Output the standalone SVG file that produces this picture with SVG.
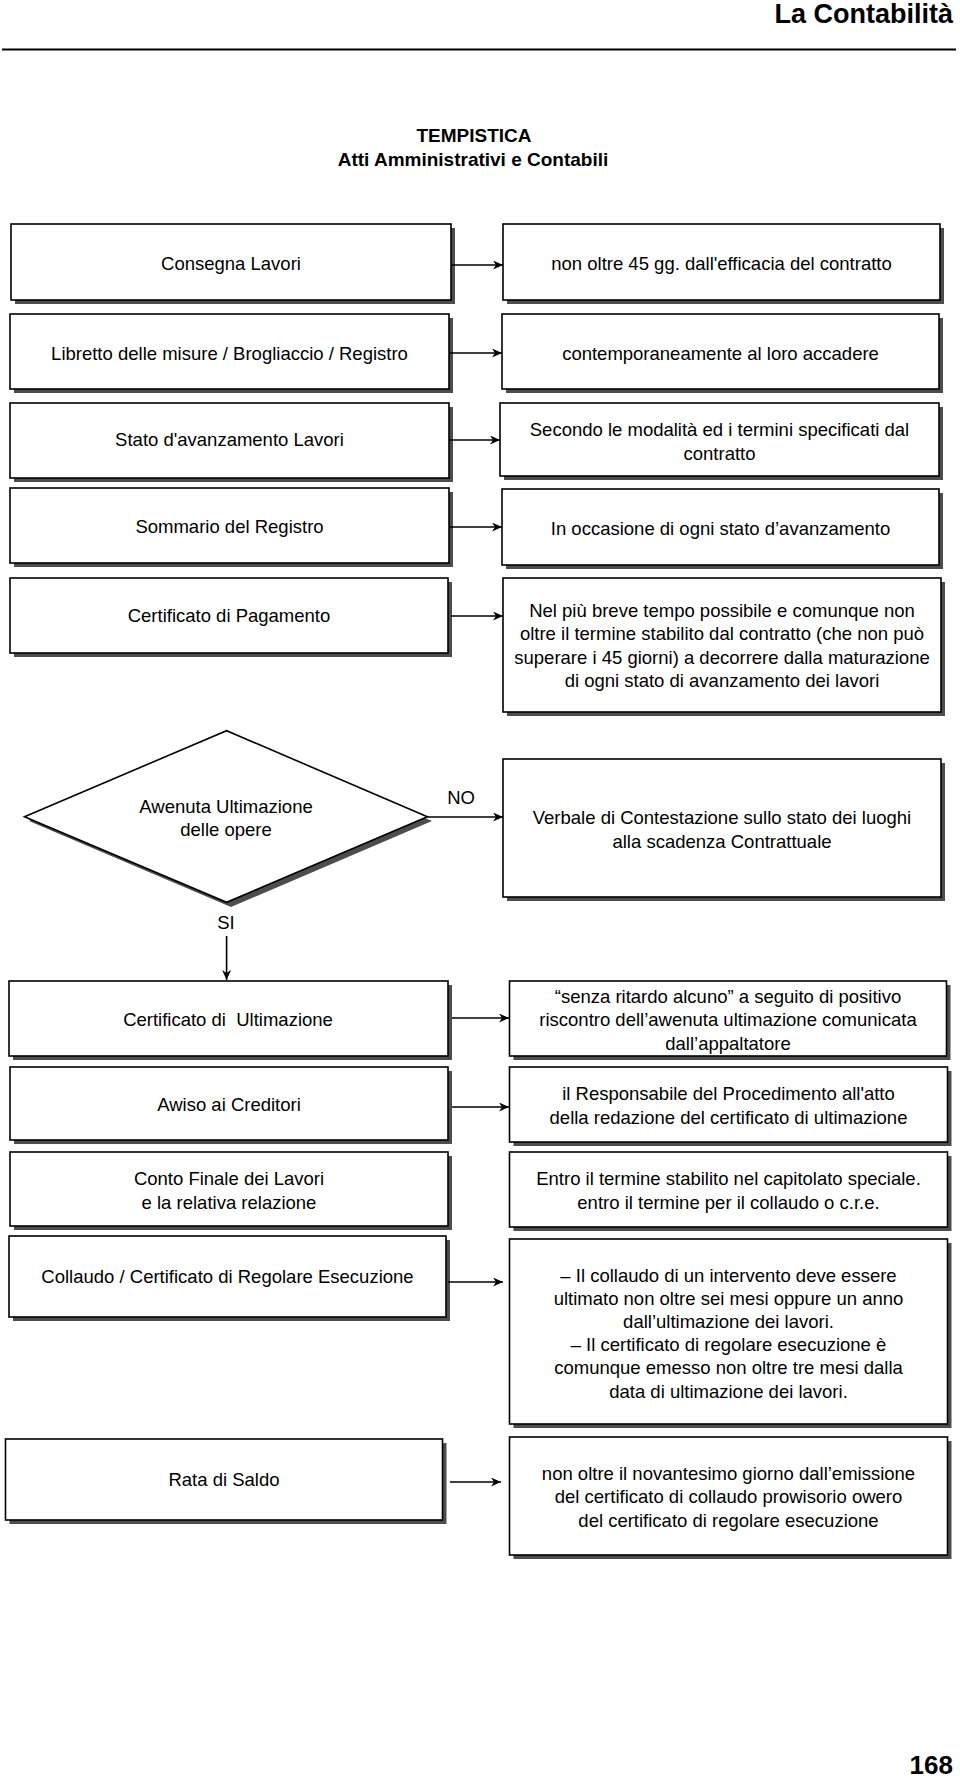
<svg xmlns="http://www.w3.org/2000/svg" width="960" height="1778" viewBox="0 0 960 1778">
<style>
.t{font-family:"Liberation Sans",Arial,sans-serif;font-size:18.5px;fill:#000;text-anchor:middle}
.b{font-weight:bold;font-size:19px}
.box{fill:#fff;stroke:#000;stroke-width:1.6}
.sh{fill:#4d4d4d}
.c{stroke:#000;stroke-width:1.6;fill:none;marker-end:url(#ah)}
</style>
<defs>
<marker id="ah" markerUnits="userSpaceOnUse" markerWidth="12" markerHeight="10" refX="10" refY="4.5" orient="auto">
<path d="M0,0 L10,4.5 L0,9 L3,4.5 z" fill="#000"/>
</marker>
</defs>
<rect width="960" height="1778" fill="#fff"/>
<g id="header">
<text class="t b" x="953" y="23" style="text-anchor:end;font-size:27px">La Contabilità</text>
<line x1="2" y1="49.5" x2="956" y2="49.5" stroke="#000" stroke-width="2"/>
<text class="t b" x="474" y="142">TEMPISTICA</text>
<text class="t b" x="473" y="166">Atti Amministrativi e Contabili</text>
</g>

<g id="n-consegna"><rect class="sh" x="15" y="228" width="440" height="76"/><rect class="box" x="11" y="224" width="440" height="76"/><text class="t" x="231" y="270">Consegna Lavori</text></g>
<g id="n-consegna-t"><rect class="sh" x="507" y="228" width="437" height="76"/><rect class="box" x="503" y="224" width="437" height="76"/><text class="t" x="721.5" y="270">non oltre 45 gg. dall'efficacia del contratto</text></g>

<g id="n-libretto"><rect class="sh" x="14" y="318" width="439" height="75"/><rect class="box" x="10" y="314" width="439" height="75"/><text class="t" x="229.5" y="360">Libretto delle misure / Brogliaccio / Registro</text></g>
<g id="n-libretto-t"><rect class="sh" x="506" y="318" width="437" height="75"/><rect class="box" x="502" y="314" width="437" height="75"/><text class="t" x="720.5" y="360">contemporaneamente al loro accadere</text></g>

<g id="n-sal"><rect class="sh" x="14" y="407" width="439" height="75"/><rect class="box" x="10" y="403" width="439" height="75"/><text class="t" x="229.5" y="446">Stato d'avanzamento Lavori</text></g>
<g id="n-sal-t"><rect class="sh" x="504" y="407" width="439" height="73"/><rect class="box" x="500" y="403" width="439" height="73"/><text class="t" x="719.5" y="436">Secondo le modalità ed i termini specificati dal</text><text class="t" x="719.5" y="460">contratto</text></g>

<g id="n-sommario"><rect class="sh" x="14" y="492" width="439" height="75"/><rect class="box" x="10" y="488" width="439" height="75"/><text class="t" x="229.5" y="533">Sommario del Registro</text></g>
<g id="n-sommario-t"><rect class="sh" x="506" y="493" width="437" height="76"/><rect class="box" x="502" y="489" width="437" height="76"/><text class="t" x="720.5" y="535">In occasione di ogni stato d’avanzamento</text></g>

<g id="n-pagamento"><rect class="sh" x="14" y="582" width="438" height="75"/><rect class="box" x="10" y="578" width="438" height="75"/><text class="t" x="229" y="622">Certificato di Pagamento</text></g>
<g id="n-pagamento-t"><rect class="sh" x="507" y="582" width="438" height="134"/><rect class="box" x="503" y="578" width="438" height="134"/>
<text class="t" x="722" y="617">Nel più breve tempo possibile e comunque non</text>
<text class="t" x="722" y="640">oltre il termine stabilito dal contratto (che non può</text>
<text class="t" x="722" y="664">superare i 45 giorni) a decorrere dalla maturazione</text>
<text class="t" x="722" y="687">di ogni stato di avanzamento dei lavori</text></g>

<g id="n-decisione"><polygon class="sh" points="29,821 231,735 432,821 231,907"/><polygon class="box" points="24.5,816.7 226.6,730.7 427.4,816.7 226.6,902.3"/>
<text class="t" x="226" y="813">Awenuta Ultimazione</text><text class="t" x="226" y="836">delle opere</text></g>
<g id="n-verbale"><rect class="sh" x="507" y="763" width="438" height="138"/><rect class="box" x="503" y="759" width="438" height="138"/>
<text class="t" x="722" y="824">Verbale di Contestazione sullo stato dei luoghi</text><text class="t" x="722" y="848">alla scadenza Contrattuale</text></g>

<g id="n-ultimazione"><rect class="sh" x="13" y="985" width="439" height="75"/><rect class="box" x="9" y="981" width="439" height="75"/><text class="t" x="228" y="1026" xml:space="preserve">Certificato di  Ultimazione</text></g>
<g id="n-ultimazione-t"><rect class="sh" x="513.5" y="985" width="437" height="75"/><rect class="box" x="509.5" y="981" width="437" height="75"/>
<text class="t" x="728" y="1003">“senza ritardo alcuno” a seguito di positivo</text>
<text class="t" x="728" y="1026">riscontro dell’awenuta ultimazione comunicata</text>
<text class="t" x="728" y="1050">dall’appaltatore</text></g>

<g id="n-avviso"><rect class="sh" x="14" y="1071" width="438" height="73"/><rect class="box" x="10" y="1067" width="438" height="73"/><text class="t" x="229" y="1111">Awiso ai Creditori</text></g>
<g id="n-avviso-t"><rect class="sh" x="513.5" y="1071" width="438" height="75"/><rect class="box" x="509.5" y="1067" width="438" height="75"/>
<text class="t" x="728.5" y="1100">il Responsabile del Procedimento all'atto</text>
<text class="t" x="728.5" y="1124">della redazione del certificato di ultimazione</text></g>

<g id="n-conto"><rect class="sh" x="14" y="1156" width="438" height="74"/><rect class="box" x="10" y="1152" width="438" height="74"/>
<text class="t" x="229" y="1185">Conto Finale dei Lavori</text><text class="t" x="229" y="1209">e la relativa relazione</text></g>
<g id="n-conto-t"><rect class="sh" x="513.5" y="1156" width="438" height="75"/><rect class="box" x="509.5" y="1152" width="438" height="75"/>
<text class="t" x="728.5" y="1185">Entro il termine stabilito nel capitolato speciale.</text>
<text class="t" x="728.5" y="1209">entro il termine per il collaudo o c.r.e.</text></g>

<g id="n-collaudo"><rect class="sh" x="13" y="1240" width="437" height="81"/><rect class="box" x="9" y="1236" width="437" height="81"/><text class="t" x="227.5" y="1283">Collaudo / Certificato di Regolare Esecuzione</text></g>
<g id="n-collaudo-t"><rect class="sh" x="513.5" y="1243" width="438" height="185"/><rect class="box" x="509.5" y="1239" width="438" height="185"/>
<text class="t" x="728.5" y="1282">– Il collaudo di un intervento deve essere</text>
<text class="t" x="728.5" y="1305">ultimato non oltre sei mesi oppure un anno</text>
<text class="t" x="728.5" y="1328">dall’ultimazione dei lavori.</text>
<text class="t" x="728.5" y="1351">– Il certificato di regolare esecuzione è</text>
<text class="t" x="728.5" y="1374">comunque emesso non oltre tre mesi dalla</text>
<text class="t" x="728.5" y="1398">data di ultimazione dei lavori.</text></g>

<g id="n-rata"><rect class="sh" x="9.5" y="1443" width="437" height="81"/><rect class="box" x="5.5" y="1439" width="437" height="81"/><text class="t" x="224" y="1486">Rata di Saldo</text></g>
<g id="n-rata-t"><rect class="sh" x="513.5" y="1441" width="438" height="118"/><rect class="box" x="509.5" y="1437" width="438" height="118"/>
<text class="t" x="728.5" y="1480">non oltre il novantesimo giorno dall’emissione</text>
<text class="t" x="728.5" y="1503">del certificato di collaudo prowisorio owero</text>
<text class="t" x="728.5" y="1527">del certificato di regolare esecuzione</text></g>

<g id="connectors">
<line class="c" x1="451" y1="265" x2="503" y2="265"/>
<line class="c" x1="449" y1="353" x2="502" y2="353"/>
<line class="c" x1="449" y1="440" x2="500" y2="440"/>
<line class="c" x1="449" y1="527" x2="502" y2="527"/>
<line class="c" x1="451" y1="616" x2="503" y2="616"/>
<line class="c" x1="427.4" y1="817" x2="503" y2="817"/>
<text class="t" x="461" y="804">NO</text>
<text class="t" x="226" y="929">SI</text>
<line class="c" x1="226.6" y1="936" x2="226.6" y2="980"/>
<line class="c" x1="452" y1="1018" x2="509" y2="1018"/>
<line class="c" x1="452" y1="1107" x2="509" y2="1107"/>
<line class="c" x1="448" y1="1282" x2="503" y2="1282"/>
<line class="c" x1="450" y1="1482" x2="501" y2="1482"/>
</g>

<g id="footer">
<text class="t b" x="953" y="1774" style="text-anchor:end;font-size:26px">168</text>
</g>
</svg>
